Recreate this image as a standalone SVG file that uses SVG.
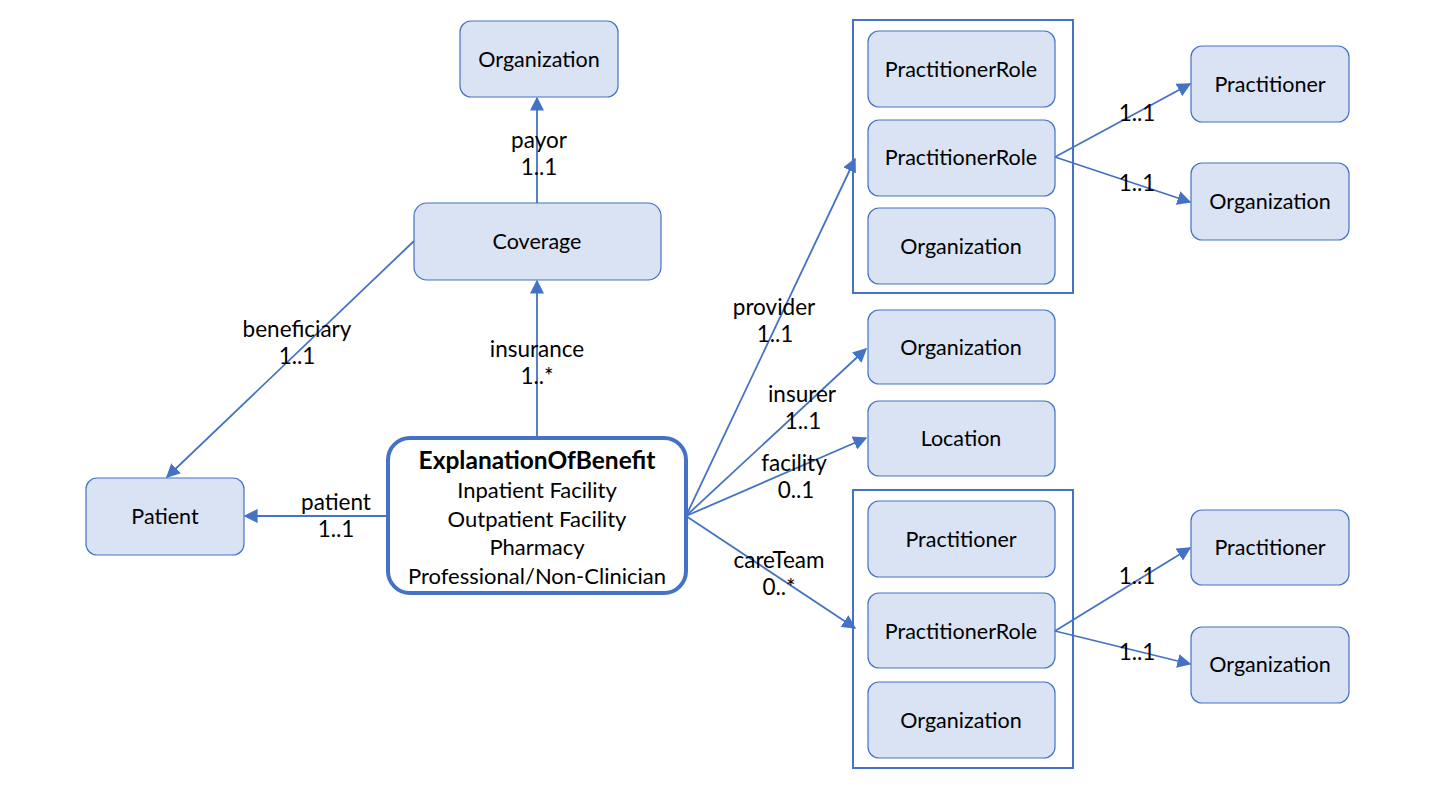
<svg xmlns="http://www.w3.org/2000/svg" width="1440" height="810" viewBox="0 0 1440 810">
<defs>
<marker id="arr" viewBox="0 0 10 10" refX="9" refY="5" markerWidth="14" markerHeight="14" markerUnits="userSpaceOnUse" orient="auto">
<path d="M0,0 L10,5 L0,10 z" fill="#4472c4"/>
</marker>
</defs>
<style>
.node{fill:#dae3f3;stroke:#4472c4;stroke-width:1.2}
.grp{fill:none;stroke:#4472c4;stroke-width:2}
.eob{fill:#ffffff;stroke:#4472c4;stroke-width:4}
.lbl{font-family:Lato,"Open Sans",sans-serif;font-size:21.5px;fill:#000;text-anchor:middle}
.sub{font-family:Lato,"Open Sans",sans-serif;font-size:22px;fill:#000;text-anchor:middle}
.el{font-family:Lato,"Open Sans",sans-serif;font-size:22.5px;fill:#000;text-anchor:middle}
.conn line{stroke:#4472c4;stroke-width:1.8;marker-end:url(#arr)}
</style>
<rect width="1440" height="810" fill="#ffffff"/>

<g id="group-provider"><rect class="grp" x="853" y="20" width="220" height="273"/></g>
<g id="group-careteam"><rect class="grp" x="853" y="490" width="220" height="278"/></g>

<g id="org-payor"><rect class="node" x="460" y="21" width="158" height="76" rx="11"/><text class="lbl" x="539" y="67">Organization</text></g>
<g id="coverage"><rect class="node" x="414" y="203" width="247" height="77" rx="13"/><text class="lbl" x="537" y="249">Coverage</text></g>
<g id="patient"><rect class="node" x="86" y="478" width="158" height="77" rx="11"/><text class="lbl" x="165" y="524">Patient</text></g>
<g id="eob"><rect class="eob" x="388" y="438" width="298" height="155" rx="22"/>
<text class="sub" x="537" y="469"><tspan style="font-weight:bold;font-size:24.5px">ExplanationOfBenefit</tspan><tspan x="537" dy="29">Inpatient Facility</tspan><tspan x="537" dy="29">Outpatient Facility</tspan><tspan x="537" dy="28">Pharmacy</tspan><tspan x="537" dy="29">Professional/Non-Clinician</tspan></text></g>

<g id="prov-role1"><rect class="node" x="868" y="31" width="187" height="76" rx="11"/><text class="lbl" x="961" y="77">PractitionerRole</text></g>
<g id="prov-role2"><rect class="node" x="868" y="120" width="187" height="76" rx="11"/><text class="lbl" x="961" y="165">PractitionerRole</text></g>
<g id="prov-org"><rect class="node" x="868" y="208" width="187" height="76" rx="11"/><text class="lbl" x="961" y="254">Organization</text></g>
<g id="insurer-org"><rect class="node" x="868" y="310" width="187" height="74" rx="11"/><text class="lbl" x="961" y="355">Organization</text></g>
<g id="location"><rect class="node" x="868" y="401" width="187" height="75" rx="11"/><text class="lbl" x="961" y="446">Location</text></g>
<g id="ct-pract"><rect class="node" x="868" y="501" width="187" height="76" rx="11"/><text class="lbl" x="961" y="547">Practitioner</text></g>
<g id="ct-role"><rect class="node" x="868" y="593" width="187" height="75" rx="11"/><text class="lbl" x="961" y="639">PractitionerRole</text></g>
<g id="ct-org"><rect class="node" x="868" y="682" width="187" height="76" rx="11"/><text class="lbl" x="961" y="728">Organization</text></g>

<g id="pr-pract"><rect class="node" x="1191" y="46" width="158" height="76" rx="11"/><text class="lbl" x="1270" y="92">Practitioner</text></g>
<g id="pr-org"><rect class="node" x="1191" y="163" width="158" height="77" rx="11"/><text class="lbl" x="1270" y="209">Organization</text></g>
<g id="ct2-pract"><rect class="node" x="1191" y="510" width="158" height="75" rx="11"/><text class="lbl" x="1270" y="555">Practitioner</text></g>
<g id="ct2-org"><rect class="node" x="1191" y="627" width="158" height="76" rx="11"/><text class="lbl" x="1270" y="672">Organization</text></g>

<g id="connectors" class="conn">
<line x1="537" y1="203" x2="537" y2="98"/>
<line x1="537" y1="438" x2="537" y2="281"/>
<line x1="414" y1="241" x2="167" y2="477"/>
<line x1="388" y1="516" x2="245" y2="516"/>
<line x1="686" y1="516" x2="855" y2="159"/>
<line x1="686" y1="516" x2="866" y2="349"/>
<line x1="686" y1="516" x2="866" y2="438"/>
<line x1="686" y1="516" x2="855" y2="628"/>
<line x1="1055" y1="157" x2="1190" y2="84"/>
<line x1="1055" y1="157" x2="1190" y2="202"/>
<line x1="1055" y1="631" x2="1190" y2="548"/>
<line x1="1055" y1="631" x2="1190" y2="664"/>
</g>

<g id="edge-labels">
<text class="el" x="539" y="148">payor<tspan x="539" dy="27">1..1</tspan></text>
<text class="el" x="537" y="357">insurance<tspan x="537" dy="27">1..*</tspan></text>
<text class="el" x="297" y="337">beneficiary<tspan x="297" dy="27">1..1</tspan></text>
<text class="el" x="336" y="510">patient<tspan x="336" dy="27">1..1</tspan></text>
<text class="el" x="774" y="315">provider<tspan x="775" dy="27">1..1</tspan></text>
<text class="el" x="802" y="402">insurer<tspan x="803" dy="27">1..1</tspan></text>
<text class="el" x="794" y="471">facility<tspan x="796" dy="27">0..1</tspan></text>
<text class="el" x="779" y="568">careTeam<tspan x="779" dy="27">0..*</tspan></text>
<text class="el" x="1137" y="121">1..1</text>
<text class="el" x="1137" y="191">1..1</text>
<text class="el" x="1137" y="584">1..1</text>
<text class="el" x="1137" y="660">1..1</text>
</g>
</svg>
